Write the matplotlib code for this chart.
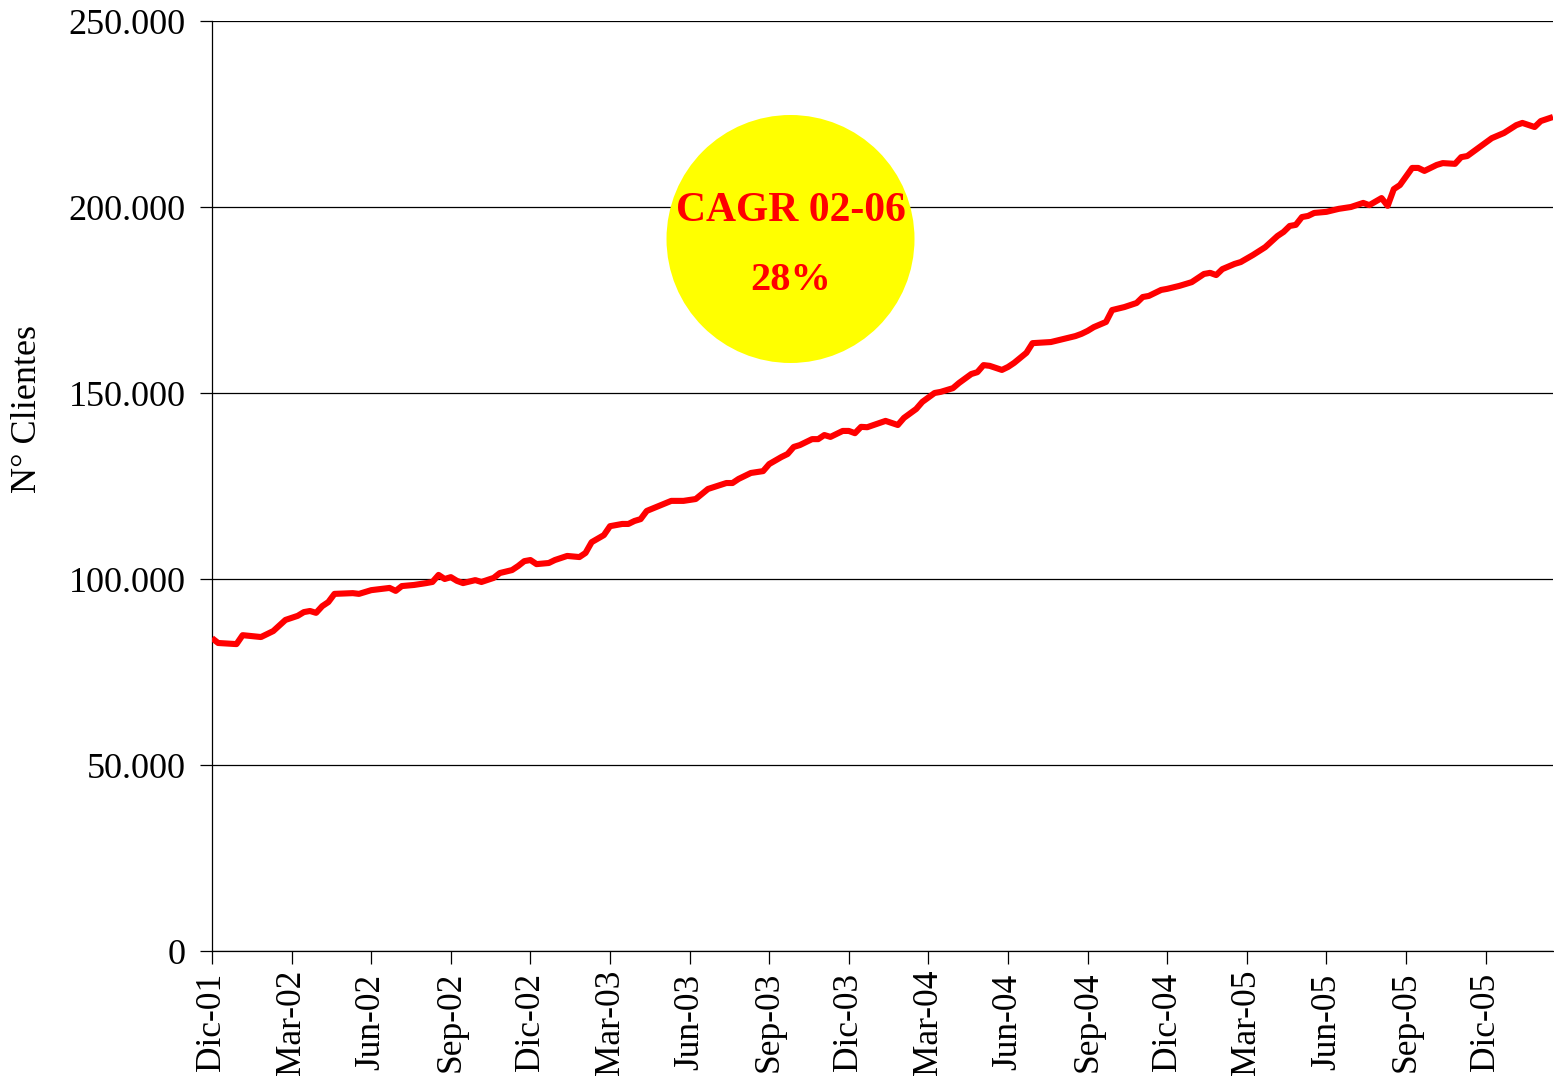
import matplotlib
matplotlib.use("Agg")
import matplotlib.pyplot as plt
from matplotlib.patches import Ellipse
from matplotlib.ticker import FuncFormatter, FixedLocator

# ---- data: week index since Dic-01, number of clients ----
weeks = [0, 1, 4, 5, 8, 10, 12, 14, 15, 16, 17, 18, 19, 20, 23, 24, 25, 26, 29, 30,
         31, 33, 35, 36, 37, 38, 39, 40, 41, 43, 44, 46, 47, 49, 50, 51, 52, 53, 55, 56,
         58, 60, 61, 62, 64, 65, 67, 68, 69, 70, 71, 75, 77, 79, 81, 84, 85, 86, 88, 90,
         91, 93, 94, 95, 96, 98, 99, 100, 101, 103, 104, 105, 106, 107, 110, 112, 113, 115, 116, 118,
         119, 121, 122, 124, 125, 126, 127, 129, 130, 131, 133, 134, 137, 139, 141, 142, 143, 144, 146, 147,
         149, 151, 152, 153, 155, 156, 158, 160, 162, 163, 164, 165, 167, 168, 170, 172, 174, 175, 176, 177,
         178, 179, 180, 182, 184, 186, 188, 189, 191, 192, 193, 194, 196, 197, 198, 200, 201, 203, 204, 205,
         207, 209, 211, 213, 214, 216, 217, 219]
clientes = [84100, 82800, 82500, 84900, 84400, 86000, 89000, 90100, 91100, 91400,
            90900, 92700, 93800, 96000, 96200, 96000, 96500, 97000, 97600, 96800,
            98100, 98400, 98900, 99200, 101100, 100000, 100500, 99500, 98900, 99700,
            99200, 100300, 101600, 102400, 103500, 104800, 105100, 104000, 104300, 105100,
            106200, 105900, 107000, 109900, 111800, 114200, 114800, 114800, 115600, 116100,
            118300, 121000, 121000, 121500, 124200, 125800, 125800, 126900, 128500, 129000,
            130900, 132800, 133600, 135500, 136000, 137600, 137600, 138700, 138200, 139800,
            139800, 139200, 140900, 140800, 142500, 141400, 143300, 145700, 147600, 150000,
            150300, 151300, 152700, 155100, 155600, 157500, 157300, 156200, 157000, 158100,
            160800, 163400, 163700, 164500, 165300, 165900, 166700, 167700, 169100, 172300,
            173100, 174200, 175800, 176100, 177700, 178000, 178800, 179800, 182000, 182300,
            181700, 183300, 184700, 185200, 187100, 189200, 192200, 193300, 194900, 195200,
            197300, 197600, 198400, 198700, 199500, 200000, 201100, 200500, 202400, 200300,
            204800, 205900, 210500, 210500, 209700, 211300, 211800, 211600, 213400, 213700,
            216100, 218500, 219900, 222000, 222600, 221500, 223100, 224200]

tick_weeks = [0, 13, 26, 39, 52, 65, 78, 91, 104, 117, 130, 143, 156, 169, 182, 195, 208]
tick_labels = ["Dic-01", "Mar-02", "Jun-02", "Sep-02", "Dic-02", "Mar-03", "Jun-03",
               "Sep-03", "Dic-03", "Mar-04", "Jun-04", "Sep-04", "Dic-04", "Mar-05",
               "Jun-05", "Sep-05", "Dic-05"]
y_ticks = [0, 50000, 100000, 150000, 200000, 250000]

plt.rcParams['font.family'] = ['Liberation Serif', 'DejaVu Serif']

W, H = 1554, 1078
fig = plt.figure(figsize=(W / 100, H / 100), dpi=100)
ax = fig.add_axes([212 / W, 127 / H, (1553 - 212) / W, 930 / H])

ax.set_xlim(0, 219)
ax.set_ylim(0, 250000)

ax.yaxis.set_major_locator(FixedLocator(y_ticks))
ax.yaxis.set_major_formatter(FuncFormatter(lambda v, p: f"{int(v):,}".replace(",", ".")))
ax.grid(axis='y', color='black', linewidth=0.9, zorder=1)
ax.set_axisbelow(True)

ax.set_xticks(tick_weeks)
ax.set_xticklabels([])
for tw, tl in zip(tick_weeks, tick_labels):
    ax.text(tw, -0.0763, tl, transform=ax.get_xaxis_transform(), rotation=90,
            ha='center', va='center', fontsize=25.5, clip_on=False)

ax.tick_params(axis='y', direction='out', length=9, width=0.9, labelsize=26, pad=10)
ax.tick_params(axis='x', direction='out', length=9, width=0.9)

for s in ['top', 'right']:
    ax.spines[s].set_visible(False)
for s in ['left', 'bottom']:
    ax.spines[s].set_linewidth(0.9)
    ax.spines[s].set_color('black')

ax.plot(weeks, clientes, color='#FF0000', linewidth=4.4, solid_joinstyle='round',
        solid_capstyle='butt', zorder=3)

circ = Ellipse((0.4314, 0.7656), 248 / 1341, 248 / 930, transform=ax.transAxes,
               facecolor='#FFFF00', edgecolor='none', zorder=2)
ax.add_patch(circ)
ax.text(0.4314, (951 - 211) / 930, "CAGR 02-06", transform=ax.transAxes, ha='center',
        va='center', fontsize=30, fontweight='bold', color='#FF0000', zorder=4)
ax.text(0.4314, (951 - 280) / 930, "28%", transform=ax.transAxes, ha='center',
        va='center', fontsize=29, fontweight='bold', color='#FF0000', zorder=4)

fig.text(28 / W, 1 - 409 / H, "N° Clientes", rotation=90, ha='center', va='center',
         fontsize=26)

fig.savefig("out.png", dpi=100)
